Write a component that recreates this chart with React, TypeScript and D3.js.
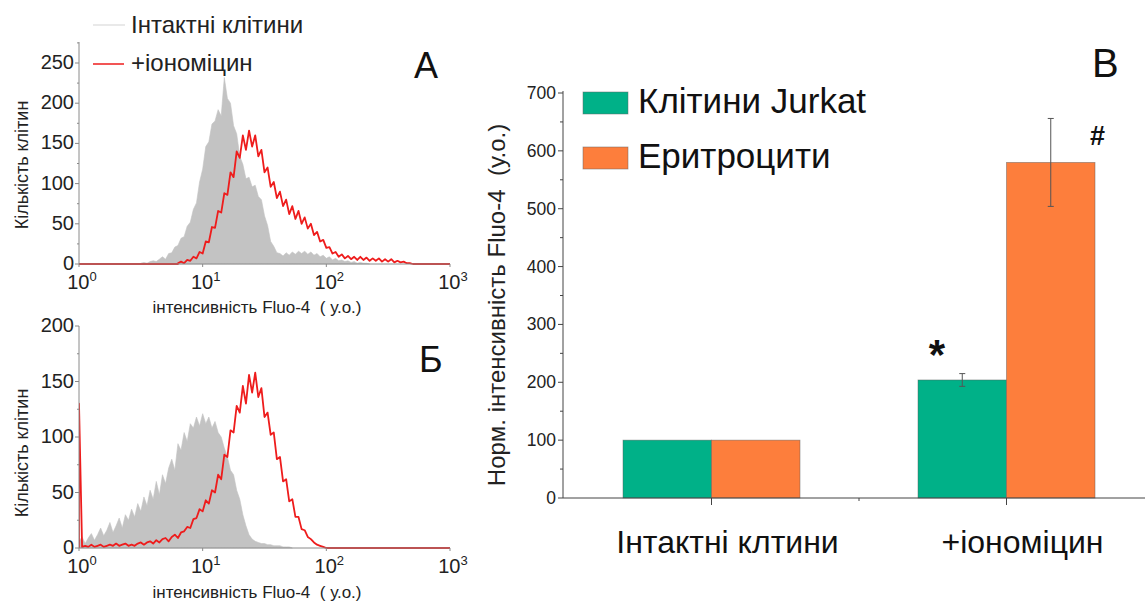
import React from 'react';
import * as d3 from 'd3';

const W = 1145;
const H = 604;
const FONT = '"Liberation Sans", Arial, Helvetica, sans-serif';

// ---------- histogram data (log10 bins, step 0.025) ----------
const BIN_STEP = 0.025;

const histA_intact_start = 0.5;
const histA_intact = [
  1, 2, 1, 3, 4, 3, 6, 9, 6, 13, 14, 21, 23, 32, 34, 47, 52, 68, 76, 102,
  118, 146, 152, 174, 178, 192, 184, 232, 206, 200, 172, 162, 134, 124, 106, 108, 96, 98, 84, 80,
  60, 48, 28, 22, 14, 13, 10, 14, 11, 15, 12, 16, 13, 16, 12, 15, 11, 13, 9, 11,
  7, 9, 5, 7, 4, 5, 3, 4, 2, 3, 1, 2, 1, 1, 0,
];

const histA_iono_start = 0.8;
const histA_iono = [
  1, 3, 1, 5, 4, 9, 7, 15, 13, 28, 27, 46, 45, 66, 64, 88, 86, 114, 108, 140,
  132, 160, 142, 166, 146, 160, 134, 142, 114, 120, 96, 102, 82, 90, 72, 80, 62, 72, 56, 66,
  50, 58, 44, 50, 36, 40, 28, 30, 20, 21, 13, 15, 9, 12, 7, 10, 6, 9, 5, 9,
  5, 8, 4, 7, 4, 7, 3, 6, 3, 6, 2, 4, 2, 3, 1, 1, 0,
];

const histB_intact_start = 0.0;
const histB_intact = [
  6, 10, 4, 9, 13, 7, 12, 18, 11, 16, 23, 14, 20, 27, 18, 30, 25, 35, 28, 40,
  33, 46, 38, 52, 44, 60, 48, 66, 58, 72, 80, 70, 94, 88, 104, 96, 112, 108, 118, 110,
  121, 112, 118, 108, 114, 104, 100, 90, 82, 70, 66, 52, 44, 30, 20, 12, 8, 6, 5, 4,
  4, 3, 3, 2, 2, 2, 1, 1, 1, 0,
];

const histB_iono_start = 0.0;
const histB_iono = [
  130, 1, 2, 1, 3, 1, 2, 3, 1, 2, 3, 2, 4, 2, 3, 4, 2, 3, 2, 4,
  5, 3, 5, 6, 4, 7, 5, 8, 9, 6, 10, 12, 9, 14, 15, 19, 18, 26, 27, 35,
  33, 43, 40, 52, 50, 66, 62, 84, 82, 106, 104, 128, 122, 146, 130, 156, 140, 158, 136, 144,
  118, 122, 102, 104, 80, 82, 60, 62, 42, 44, 28, 28, 17, 16, 10, 8, 5, 3, 2, 1, 0,
];

const histA_yTicks = [0, 50, 100, 150, 200, 250];
const histB_yTicks = [0, 50, 100, 150, 200];
const histDecades = [0, 1, 2, 3];

// ---------- bar chart data ----------
const barCategories = ['Інтактні клтини', '+іономіцин'];
const barSeries = ['Клітини Jurkat', 'Еритроцити'];
const jurkatValues = [100, 204];
const jurkatErrors = [0, 11];
const erythroValues = [100, 580];
const erythroErrors = [0, 76];
const barYTicks = [0, 100, 200, 300, 400, 500, 600, 700];
const barMarks = ['*', '#'];

const GREEN = '#00b188';
const ORANGE = '#fd7e3c';
const GRAY_FILL = '#c3c3c3';
const RED = '#ee1c1c';

type HistProps = {
  yBottom: number;
  yTopValuePx: number;
  yMax: number;
  axisTop: number;
  yTicks: number[];
  intactStart: number;
  intact: number[];
  ionoStart: number;
  iono: number[];
  clipId: string;
  label: string;
  labelX: number;
  labelY: number;
  xLabelY: number;
  yLabelY: number;
};

function HistPanel(p: HistProps) {
  const x = d3.scaleLog().domain([1, 1000]).range([79, 450]);
  const y = d3.scaleLinear().domain([0, p.yMax]).range([p.yBottom, p.yTopValuePx]);

  const toPts = (start: number, arr: number[]) =>
    arr.map((c, i) => [start + i * BIN_STEP, c] as [number, number]);

  const intactPts = toPts(p.intactStart, p.intact);
  const ionoPts: [number, number][] = [
    [0, 0],
    ...(p.ionoStart > 0 ? [[p.ionoStart, 0] as [number, number]] : []),
    ...toPts(p.ionoStart, p.iono),
    [3, 0],
  ];

  const area = d3
    .area<[number, number]>()
    .x((d) => x(Math.pow(10, d[0])))
    .y0(y(0))
    .y1((d) => y(d[1]));
  const line = d3
    .line<[number, number]>()
    .x((d) => x(Math.pow(10, d[0])))
    .y((d) => y(d[1]));

  const minor: number[] = [];
  for (let i = 0; i < p.yTicks.length - 1; i++) minor.push((p.yTicks[i] + p.yTicks[i + 1]) / 2);
  if (y.invert(p.axisTop) > p.yTicks[p.yTicks.length - 1] + 20)
    minor.push(p.yTicks[p.yTicks.length - 1] + 25);

  const axisColor = '#8a8a8a';
  const x0 = x(1);
  return (
    <g>
      <defs>
        <clipPath id={p.clipId}>
          <rect x={x0} y={p.axisTop - 5} width={x(1000) - x0 + 2} height={p.yBottom - p.axisTop + 6} />
        </clipPath>
      </defs>
      <g clipPath={`url(#${p.clipId})`}>
        <path d={area(intactPts) || ''} fill={GRAY_FILL} stroke={GRAY_FILL} strokeWidth={0.6} />
        <path d={line(ionoPts) || ''} fill="none" stroke={RED} strokeWidth={1.8} strokeLinejoin="round" />
      </g>
      {/* y axis */}
      <line x1={x0} x2={x0} y1={p.yBottom} y2={p.axisTop} stroke={axisColor} strokeWidth={1} />
      {p.yTicks.map((t) => (
        <g key={'yt' + t}>
          <line x1={x0 - 4} x2={x0} y1={y(t)} y2={y(t)} stroke={axisColor} />
          <text x={x0 - 5} y={y(t) + 6} textAnchor="end" fontSize={20} fill="#222" fontFamily={FONT}>
            {t}
          </text>
        </g>
      ))}
      {minor.map((t) => (
        <line key={'ym' + t} x1={x0 - 2} x2={x0} y1={y(t)} y2={y(t)} stroke={axisColor} />
      ))}
      {/* x axis */}
      <line x1={x0} x2={x(1000)} y1={p.yBottom} y2={p.yBottom} stroke={axisColor} strokeWidth={1} />
      {histDecades.map((k) => (
        <g key={'xt' + k}>
          <line x1={x(Math.pow(10, k))} x2={x(Math.pow(10, k))} y1={p.yBottom} y2={p.yBottom + 3} stroke={axisColor} />
          <text x={x(Math.pow(10, k)) + 3} y={p.yBottom + 25} textAnchor="middle" fontSize={20} fill="#222" fontFamily={FONT}>
            10
            <tspan dy={-8} fontSize={13}>
              {k}
            </tspan>
          </text>
        </g>
      ))}
      <text
        x={257}
        y={p.xLabelY}
        textAnchor="middle"
        fontSize={17}
        fill="#222"
        fontFamily={FONT}
        style={{ whiteSpace: 'pre' }}
      >
        {'інтенсивність Fluo-4  ( у.о.)'}
      </text>
      <text
        transform={`translate(28,${p.yLabelY}) rotate(-90)`}
        textAnchor="middle"
        fontSize={18}
        fill="#222"
        fontFamily={FONT}
      >
        Кількість клітин
      </text>
      <text x={p.labelX} y={p.labelY} fontSize={36} fill="#111" fontFamily={FONT}>
        {p.label}
      </text>
    </g>
  );
}

function BarPanel() {
  const y = d3.scaleLinear().domain([0, 700]).range([498, 93]);
  const x = d3.scaleBand<string>().domain(barCategories).range([564, 1154]).paddingInner(0).paddingOuter(0);
  const step = x.step();
  const groupW = step * 0.6;
  const sub = d3.scaleBand<string>().domain(barSeries).range([0, groupW]);
  const colors = [GREEN, ORANGE];
  const values = [jurkatValues, erythroValues];
  const errors = [jurkatErrors, erythroErrors];
  const axisColor = '#444';
  const x0 = 563;
  const minorY = barYTicks.slice(0, -1).map((t) => t + 50);
  const center = (c: string) => (x(c) as number) + step / 2;

  return (
    <g fontFamily={FONT}>
      {barCategories.map((c, ci) =>
        barSeries.map((s, si) => {
          const bx = center(c) - groupW / 2 + (sub(s) as number);
          const v = values[si][ci];
          return (
            <rect
              key={c + s}
              x={bx}
              y={y(v)}
              width={sub.bandwidth()}
              height={y(0) - y(v)}
              fill={colors[si]}
              stroke="#5a5a5a"
              strokeOpacity={0.55}
              strokeWidth={0.8}
            />
          );
        })
      )}
      {barCategories.map((c, ci) =>
        barSeries.map((s, si) => {
          const e = errors[si][ci];
          if (!e) return null;
          const cx = center(c) - groupW / 2 + (sub(s) as number) + sub.bandwidth() / 2;
          const v = values[si][ci];
          return (
            <g key={'e' + c + s} stroke="#555" strokeWidth={1}>
              <line x1={cx} x2={cx} y1={y(v + e)} y2={y(v - e)} />
              <line x1={cx - 3} x2={cx + 3} y1={y(v + e)} y2={y(v + e)} />
              <line x1={cx - 3} x2={cx + 3} y1={y(v - e)} y2={y(v - e)} />
            </g>
          );
        })
      )}
      {/* axes */}
      <line x1={x0} x2={x0} y1={y(0)} y2={y(700) - 2} stroke={axisColor} strokeWidth={1} />
      <line x1={x0} x2={W} y1={y(0)} y2={y(0)} stroke={axisColor} strokeWidth={1} />
      {barYTicks.map((t) => (
        <g key={'byt' + t}>
          <line x1={x0 - 5} x2={x0} y1={y(t)} y2={y(t)} stroke={axisColor} />
          <text x={x0 - 7} y={y(t) + 6} textAnchor="end" fontSize={17.5} fill="#222">
            {t}
          </text>
        </g>
      ))}
      {minorY.map((t) => (
        <line key={'bym' + t} x1={x0 - 3} x2={x0} y1={y(t)} y2={y(t)} stroke={axisColor} />
      ))}
      {barCategories.map((c) => (
        <line key={'bxt' + c} x1={center(c)} x2={center(c)} y1={y(0)} y2={y(0) + 7} stroke={axisColor} />
      ))}
      <line x1={x(barCategories[1]) as number} x2={x(barCategories[1]) as number} y1={y(0)} y2={y(0) + 3} stroke={axisColor} />
      {barCategories.map((c) => (
        <text key={'bxl' + c} x={center(c) + 16} y={553} textAnchor="middle" fontSize={32} fill="#111">
          {c}
        </text>
      ))}
      {/* y label */}
      <text
        transform={`translate(505,${305}) rotate(-90)`}
        textAnchor="middle"
        fontSize={24}
        fill="#222"
        style={{ whiteSpace: 'pre' }}
      >
        {'Норм. інтенсивність Fluo-4  (у.о.)'}
      </text>
      {/* legend */}
      {barSeries.map((s, si) => (
        <g key={'lg' + s}>
          <rect x={583} y={92 + si * 55} width={45} height={22} fill={colors[si]} stroke="#666" strokeOpacity={0.6} strokeWidth={0.8} />
          <text x={638} y={113 + si * 55} fontSize={35} fill="#111">
            {s}
          </text>
        </g>
      ))}
      {/* significance marks */}
      <text x={center(barCategories[1]) - groupW / 2 + (sub(barSeries[0]) as number) + 19} y={369} fontSize={42} fontWeight="bold" fill="#111" textAnchor="middle">
        {barMarks[0]}
      </text>
      <text x={center(barCategories[1]) - groupW / 2 + (sub(barSeries[1]) as number) + 91} y={145} fontSize={27} fontWeight="bold" fill="#111" textAnchor="middle">
        {barMarks[1]}
      </text>
      <text x={1092} y={77} fontSize={40} fill="#111">
        В
      </text>
    </g>
  );
}

export default function App() {
  return (
    <svg
      width={W}
      height={H}
      viewBox={`0 0 ${W} ${H}`}
      style={{ position: 'absolute', left: 0, top: 0, background: '#fff' }}
      xmlns="http://www.w3.org/2000/svg"
    >
      <rect x={0} y={0} width={W} height={H} fill="#fff" />
      <HistPanel
        yBottom={264}
        yTopValuePx={63}
        yMax={250}
        axisTop={42}
        yTicks={histA_yTicks}
        intactStart={histA_intact_start}
        intact={histA_intact}
        ionoStart={histA_iono_start}
        iono={histA_iono}
        clipId="clipA"
        label="A"
        labelX={414}
        labelY={78}
        xLabelY={313}
        yLabelY={165}
      />
      {/* legend of panel A */}
      <line x1={93} x2={125} y1={25} y2={25} stroke="#e2e2e2" strokeWidth={1.5} />
      <text x={131} y={33} fontSize={24} fill="#222" fontFamily={FONT}>
        Інтактні клітини
      </text>
      <line x1={93} x2={124} y1={64} y2={64} stroke={RED} strokeWidth={1.5} />
      <text x={131} y={71} fontSize={24} fill="#222" fontFamily={FONT}>
        +іономіцин
      </text>
      <HistPanel
        yBottom={548}
        yTopValuePx={326}
        yMax={200}
        axisTop={326}
        yTicks={histB_yTicks}
        intactStart={histB_intact_start}
        intact={histB_intact}
        ionoStart={histB_iono_start}
        iono={histB_iono}
        clipId="clipB"
        label="Б"
        labelX={419}
        labelY={372}
        xLabelY={598}
        yLabelY={453}
      />
      <BarPanel />
    </svg>
  );
}
